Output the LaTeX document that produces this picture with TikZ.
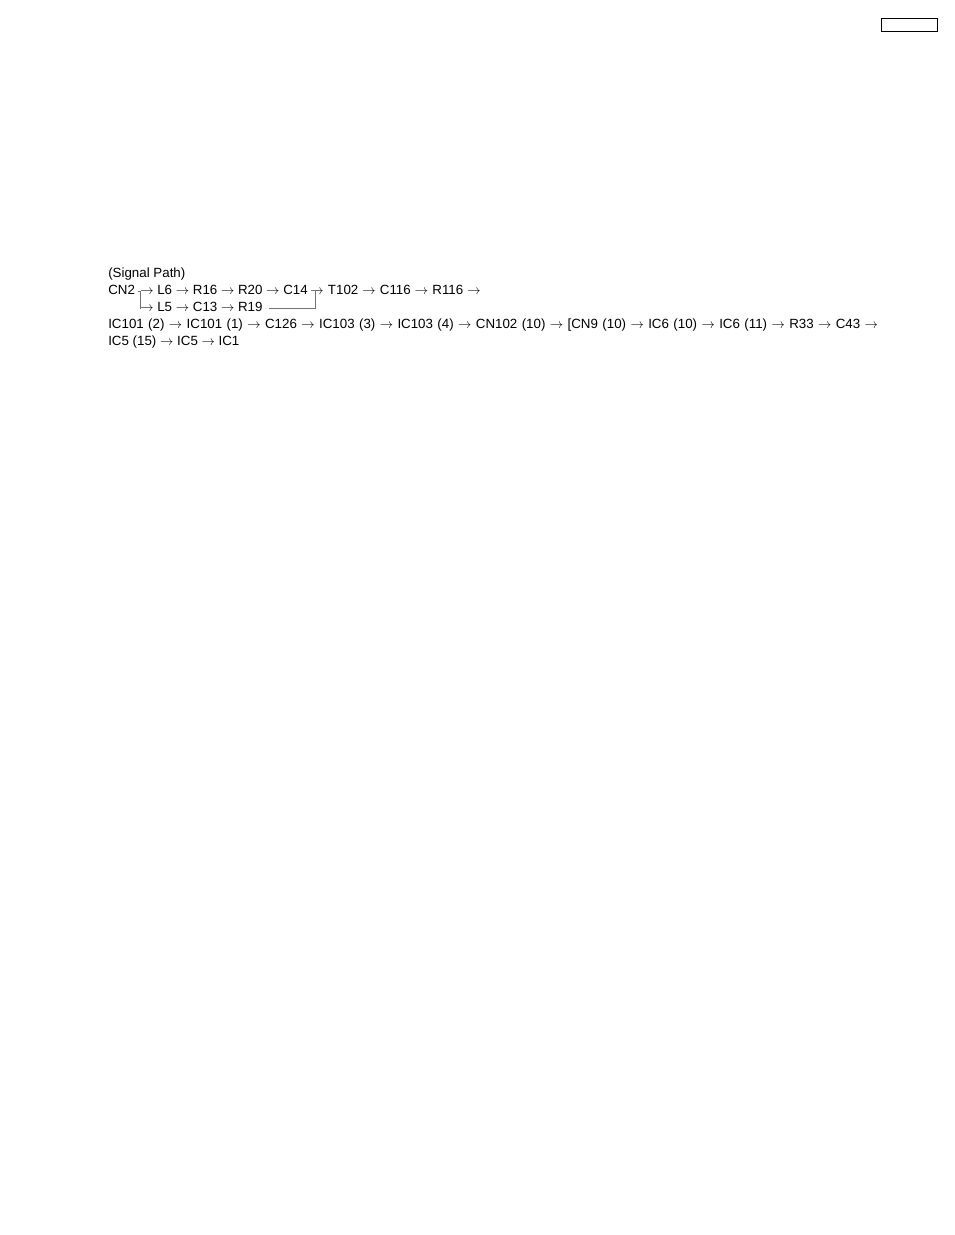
\documentclass[tikz,border=0pt]{standalone}
\usepackage{fontspec}
\setmainfont{Liberation Sans}
\usetikzlibrary{calc}
\begin{document}
\begin{tikzpicture}[x=0.75pt,y=-0.75pt,
  txt/.style={inner sep=0pt, anchor=base west, font=\fontsize{10}{12}\selectfont, text=black},
  br/.style={draw=black!55, line width=0.6pt}]
\useasboundingbox (0,0) rectangle (954,1235);
\node[draw, line width=1pt, minimum width=56*0.75pt, minimum height=13*0.75pt, inner sep=0pt, anchor=north west] (tag) at (881,18) {};
\node[txt] (title) at (108,277.5) {(Signal Path)};
\node[txt] (cn2) at (108,294.5) {CN2};
\node[txt] (r1a) at (140,294.5) {$\rightarrow$ L6 $\rightarrow$ R16 $\rightarrow$ R20 $\rightarrow$ C14};
\node[txt] (r1b) at ($(r1a.base east)+(2.2,0)$) {\spaceskip=3.1pt\relax $\rightarrow$ T102 $\rightarrow$ C116 $\rightarrow$ R116 $\rightarrow$};
\node[txt] (r2) at (140,311.5) {$\rightarrow$ L5 $\rightarrow$ C13 $\rightarrow$ R19};
\node[txt] (r3) at (108,328.5) {\spaceskip=3.3pt\relax IC101 (2) $\rightarrow$ IC101 (1) $\rightarrow$ C126 $\rightarrow$ IC103 (3) $\rightarrow$ IC103 (4) $\rightarrow$ CN102 (10) $\rightarrow$ [CN9 (10) $\rightarrow$ IC6 (10) $\rightarrow$ IC6 (11) $\rightarrow$ R33 $\rightarrow$ C43 $\rightarrow$};
\node[txt] (r4) at (108,345.5) {IC5 (15) $\rightarrow$ IC5 $\rightarrow$ IC1};
% left branch
\coordinate (la) at ($(cn2.base east)+(2.5,-3.3)$);
\coordinate (lb) at ($(r1a.base west)+(1,-3.3)$);
\coordinate (lc) at ($(r1a.base west)+(0,-3.3)$);
\coordinate (ld) at ($(r2.base west)+(0,-3.3)$);
\coordinate (le) at ($(r2.base west)+(1,-3.3)$);
\draw[br] (la) -- (lb);
\draw[br] (lc) -- (ld) -- (le);
% right branch
\coordinate (ra) at ($(r2.base east)+(6.5,-3.3)$);
\coordinate (rt) at ($(r1b.base west)+(5.5,-3.3)$);
\draw[br] (ra) -- (ra -| rt) -- (rt);
\end{tikzpicture}
\end{document}
